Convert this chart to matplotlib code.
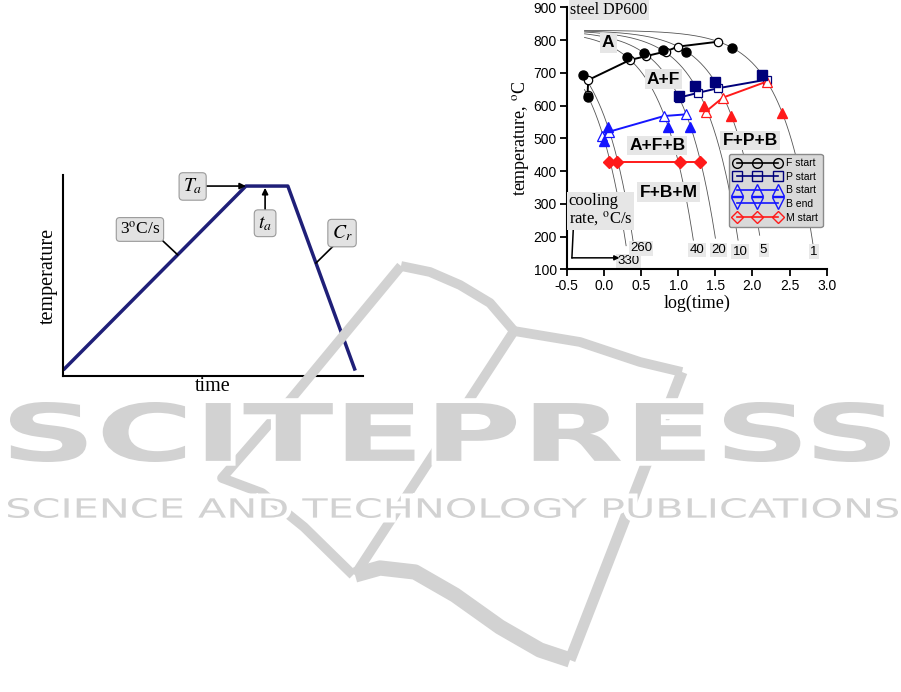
"""
Skema perlakuan panas (kiri) + diagram CCT baja DP600 (kanan),
dengan watermark penerbit di bawahnya.
"""

import numpy as np
import matplotlib.pyplot as plt
from matplotlib.lines import Line2D
from matplotlib.patches import PathPatch
from matplotlib.textpath import TextPath
from matplotlib.font_manager import FontProperties
from matplotlib.transforms import Affine2D

plt.rcParams["mathtext.fontset"] = "stix"

W, H = 901, 692
SERIF = "Liberation Serif"
SANS = "Liberation Sans"

# ---- panel kiri: profil waktu-suhu (skematik) ----
profil_waktu = [0, 61, 75, 97.5]
profil_suhu = [3, 94.5, 94.5, 2.7]

# ---- panel kanan: diagram CCT ----
T0 = 830
laju_pendinginan = [330, 260, 40, 20, 10, 5, 1]
suhu_akhir_kurva = [172, 186, 189, 195, 189, 204, 174]
label_laju_x = [0.33, 0.50, 1.255, 1.546, 1.833, 2.15, 2.83]
label_laju_T = [124, 164, 159, 159, 154, 159, 154]

f_start_x = [-0.22, -0.21, 0.35, 0.57, 0.83, 1.00, 1.54]
f_start_T = [632, 678, 739, 751, 765, 780, 795]
f_titik_x = [-0.28, -0.22, 0.31, 0.54, 0.79, 1.10, 1.73]
f_titik_T = [692, 627, 748, 760, 770, 765, 776]

p_start_x = [1.01, 1.27, 1.54, 2.19]
p_start_T = [624, 639, 653, 679]
p_titik_x = [1.01, 1.23, 1.49, 2.13]
p_titik_T = [630, 660, 673, 694]

b_start_x = [-0.02, 0.07, 0.81, 1.10]
b_start_T = [507, 520, 568, 573]
b_titik_x = [0.00, 0.05, 0.87, 1.16]
b_titik_T = [492, 533, 536, 536]

merah_x = [1.37, 1.60, 2.19]
merah_T = [581, 624, 673]
merah_titik_x = [1.35, 1.71, 2.40]
merah_titik_T = [600, 569, 576]

m_start_x = [0.07, 0.18, 1.02, 1.30]
m_start_T = [428, 428, 428, 428]

daerah_fasa = ["A", "A+F", "A+F+B", "F+B+M", "F+P+B"]
daerah_x = [0.06, 0.80, 0.72, 0.87, 1.97]
daerah_T = [791, 681, 479, 336, 494]


def fx(px):
    return px / W


def fy(py):
    return 1 - py / H


def teks_melar(fig, s, x0, y0, x1, y1, weight, warna):
    # teks watermark ditarik supaya pas ke kotak (dalam piksel)
    tp = TextPath((0, 0), s, size=100, prop=FontProperties(family="DejaVu Sans", weight=weight))
    bb = tp.get_extents()
    tr = (Affine2D().translate(-bb.x0, -bb.y0)
          .scale((fx(x1) - fx(x0)) / bb.width, (fy(y0) - fy(y1)) / bb.height)
          .translate(fx(x0), fy(y1)))
    path = tr.transform_path(tp)
    fig.add_artist(PathPatch(path, fc="white", ec="white", lw=7, transform=fig.transFigure, zorder=2))
    fig.add_artist(PathPatch(path, fc=warna, ec="none", transform=fig.transFigure, zorder=3))


def watermark(fig):
    abu = "#d2d2d2"
    garis = [
        ([401, 430, 460, 490, 514], [266, 272, 285, 303, 331], 7),
        ([401, 291, 222, 262, 304, 353], [266, 399, 478, 493, 527, 575], 7),
        ([514, 355], [331, 575], 7),
        ([514, 580, 640, 682], [331, 342, 362, 372], 7),
        ([682, 570], [372, 660], 8),
        ([355, 380, 415, 455, 500, 540, 570], [575, 568, 572, 595, 627, 650, 660], 11),
    ]
    for xs, ys, lw in garis:
        fig.add_artist(Line2D([fx(x) for x in xs], [fy(y) for y in ys], color=abu, lw=lw,
                              solid_capstyle="butt", solid_joinstyle="round",
                              transform=fig.transFigure, zorder=1))
    teks_melar(fig, "SCITEPRESS", 10, 402, 890, 462, "bold", abu)
    teks_melar(fig, "SCIENCE AND TECHNOLOGY PUBLICATIONS", 8, 498, 898, 518, "normal", abu)


def panel_kiri(fig):
    ax = fig.add_axes([fx(63.3), fy(376), fx(299.4), 201 / H])
    ax.plot(profil_waktu, profil_suhu, color="#1f1f78", lw=2.5, solid_capstyle="butt")
    ax.set_xlim(0, 100)
    ax.set_ylim(0, 100)
    ax.set_xticks([])
    ax.set_yticks([])
    for s in ["top", "right"]:
        ax.spines[s].set_visible(False)
    for s in ["left", "bottom"]:
        ax.spines[s].set_linewidth(1.5)
    ax.set_xlabel("time", family=SERIF, fontsize=14.5, labelpad=1)
    ax.set_ylabel("temperature", family=SERIF, fontsize=14.5, labelpad=4)

    kotak = dict(boxstyle="round,pad=0.2", fc="#e2e2e2", ec="#9a9a9a", lw=0.8)
    panah = dict(arrowstyle="-|>", color="k", lw=1.2, mutation_scale=9, shrinkA=0, shrinkB=0)
    ax.annotate("", xy=(61, 94.5), xytext=(47.6, 94.5), arrowprops=panah)
    ax.text(43.2, 94.3, "$T_a$", ha="center", va="center", fontsize=14, bbox=kotak)
    ax.annotate("", xy=(67.4, 93.6), xytext=(67.4, 81.5), arrowprops=panah)
    ax.text(67.4, 76, "$t_a$", ha="center", va="center", fontsize=14, bbox=kotak)
    ax.plot([32.9, 38.2], [67.7, 60.3], color="k", lw=1.2)
    ax.text(25.6, 72.9, "3$^{\\rm o}$C/s", family=SERIF, ha="center", va="center", fontsize=12.5, bbox=kotak)
    ax.plot([90.2, 84.4], [64.7, 56.2], color="k", lw=1.2)
    ax.text(93.1, 71.1, "$C_r$", ha="center", va="center", fontsize=14, bbox=kotak)


def panel_kanan(fig):
    ax = fig.add_axes([fx(566.7), fy(269.3), 260 / W, 262 / H])

    # kurva pendinginan: T = T0 - laju * t, sumbu x = log(t)
    for laju, t_akhir, lx, lT in zip(laju_pendinginan, suhu_akhir_kurva, label_laju_x, label_laju_T):
        t = np.logspace(-0.26, np.log10((T0 - t_akhir) / laju), 200)
        ax.plot(np.log10(t), T0 - laju * t, color="#555555", lw=0.6, zorder=1)
        ax.text(lx, lT, str(laju), family=SANS, fontsize=9.5, ha="center", va="center",
                bbox=dict(boxstyle="square,pad=0.1", fc="#e8e8e8", ec="none"), zorder=2)

    ms_isi = 6.5
    ms_kos = 6
    ax.plot(f_start_x, f_start_T, "-o", color="k", mfc="white", ms=ms_kos, mew=0.9, lw=1.4, zorder=3)
    ax.plot(f_titik_x, f_titik_T, "o", color="k", ms=ms_isi, zorder=4)
    ax.plot(p_start_x, p_start_T, "-s", color="#00007a", mfc="white", ms=ms_kos, mew=0.9, lw=1.4, zorder=3)
    ax.plot(p_titik_x, p_titik_T, "s", color="#00007a", ms=ms_isi, zorder=4)
    ax.plot(b_start_x, b_start_T, "-^", color="#1515ff", mfc="white", ms=ms_kos + 1, mew=0.9, lw=1.4, zorder=3)
    ax.plot(b_titik_x, b_titik_T, "^", color="#1515ff", ms=ms_isi + 1, zorder=4)
    ax.plot(merah_x, merah_T, "-^", color="#ff1a1a", mfc="white", ms=ms_kos + 1, mew=0.9, lw=1.4, zorder=3)
    ax.plot(merah_titik_x, merah_titik_T, "^", color="#ff1a1a", ms=ms_isi + 1, zorder=4)
    ax.plot(m_start_x, m_start_T, "-D", color="#ff1a1a", ms=ms_kos, lw=1.4, zorder=3)

    for nama, x, T in zip(daerah_fasa, daerah_x, daerah_T):
        ax.text(x, T, nama, family=SANS, weight="bold", fontsize=12.5, ha="center", va="center",
                bbox=dict(boxstyle="square,pad=0.12", fc="#e6e6e6", ec="none"), zorder=5)

    ax.text(-0.45, 892, "steel DP600", family=SERIF, fontsize=11.5, ha="left", va="center",
            bbox=dict(boxstyle="square,pad=0.1", fc="#e6e6e6", ec="none"))
    ax.text(-0.475, 334, "cooling\nrate, $^{\\rm o}$C/s", family=SERIF, fontsize=12, ha="left", va="top",
            linespacing=1.05, bbox=dict(boxstyle="square,pad=0.1", fc="#e6e6e6", ec="none"))
    ax.plot([-0.41, -0.43], [229, 135], color="k", lw=1.1)
    ax.annotate("", xy=(0.21, 135), xytext=(-0.43, 135),
                arrowprops=dict(arrowstyle="-|>", color="k", lw=1.1, mutation_scale=7, shrinkA=0, shrinkB=0))

    legenda = [
        Line2D([], [], color="k", marker="o", mfc="none", lw=1.2, ms=7, label="F start"),
        Line2D([], [], color="#00007a", marker="s", mfc="none", lw=1.2, ms=7, label="P start"),
        Line2D([], [], color="#1515ff", marker="^", mfc="none", lw=1.2, ms=8, label="B start"),
        Line2D([], [], color="#1515ff", marker="v", mfc="none", lw=1.2, ms=8, label="B end"),
        Line2D([], [], color="#ff1a1a", marker="D", mfc="none", lw=1.2, ms=6, label="M start"),
    ]
    leg = ax.legend(handles=legenda, loc="upper left", bbox_to_anchor=(0.605, 0.46), numpoints=3,
                    handlelength=4.6, labelspacing=0.35, borderpad=0.4,
                    handletextpad=0.5, fancybox=True, framealpha=1, prop={"family": SANS, "size": 7.5})
    leg.get_frame().set_facecolor("#d9d9d9")
    leg.get_frame().set_edgecolor("#8a8a8a")
    leg.set_zorder(6)

    ax.set_xlim(-0.5, 3.0)
    ax.set_ylim(100, 900)
    ax.set_xticks(np.arange(-0.5, 3.01, 0.5))
    ax.set_yticks(np.arange(100, 901, 100))
    ax.set_xticklabels([f"{v:.1f}" for v in np.arange(-0.5, 3.01, 0.5)])
    for s in ["top", "right"]:
        ax.spines[s].set_visible(False)
    for s in ["left", "bottom"]:
        ax.spines[s].set_linewidth(1.5)
    ax.tick_params(direction="out", length=5, width=1.3, labelsize=10, pad=2)
    for lbl in ax.get_xticklabels() + ax.get_yticklabels():
        lbl.set_family(SANS)
    ax.set_xlabel("log(time)", family=SERIF, fontsize=13, labelpad=1)
    ax.set_ylabel("temperature, $^{\\rm o}$C", family=SERIF, fontsize=13, labelpad=2)


def main():
    fig = plt.figure(figsize=(W / 100, H / 100), dpi=100)
    watermark(fig)
    panel_kiri(fig)
    panel_kanan(fig)
    fig.savefig("out.png", dpi=100)
    plt.close(fig)


if __name__ == "__main__":
    main()
